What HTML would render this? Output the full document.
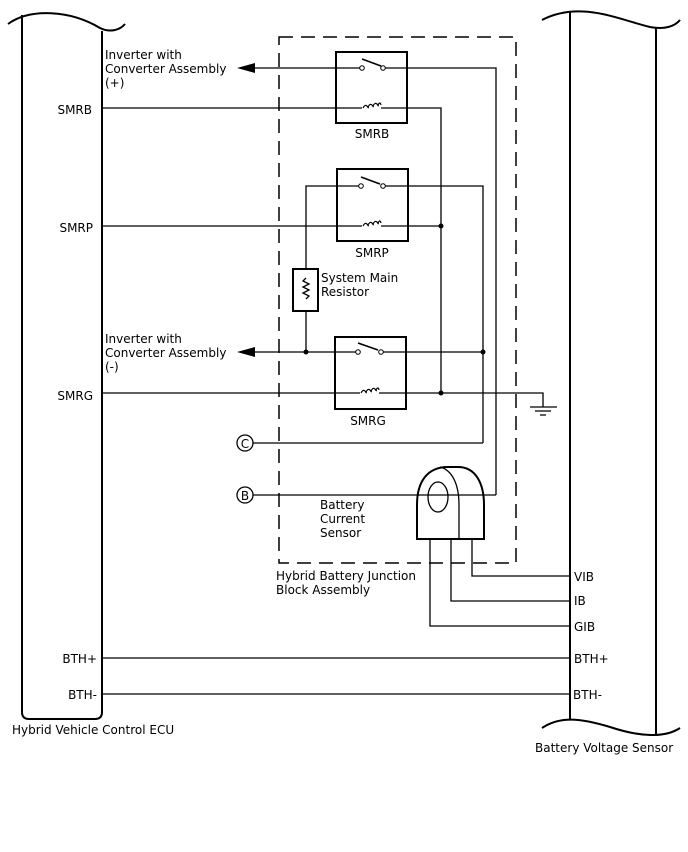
<!DOCTYPE html>
<html><head><meta charset="utf-8"><style>
html,body{margin:0;padding:0;background:#fff}
svg{display:block}
text{font-family:"DejaVu Sans","Liberation Sans",sans-serif;font-size:12px;fill:#000}
</style></head><body>
<svg width="688" height="852" viewBox="0 0 688 852" xmlns="http://www.w3.org/2000/svg">
<defs>
<path id="coil" d="M-9,0 q2,-4 4,-2 q2,3 1,1 q2,-4 4,-2 q2,3 1,1 q2,-4 4,-2 q2,3 1,1 q2,-4 3,0" fill="none" stroke="#000" stroke-width="1.2"/>
</defs>
<g fill="none" stroke="#000" stroke-width="1.3">
<!-- ECU -->
<path d="M8,24 C30,8 70,10 100,28 C110,33 120,30 125,24" stroke-width="2"/>
<path d="M22,15 V712 Q22,719 29,719 H95 Q102,719 102,712 V31" stroke-width="2"/>
<!-- Battery voltage sensor -->
<path d="M542,20 C580,0 620,20 650,27 C665,30 675,26 680,20" stroke-width="2"/>
<path d="M570,11 V720 M656,28 V736" stroke-width="2"/>
<path d="M542,728 C560,716 580,718 610,727 C640,737 665,738 680,728" stroke-width="2"/>
<!-- dashed box -->
<rect x="279" y="37" width="237" height="526" stroke-dasharray="14,8" stroke-width="1.5"/>
<!-- relay boxes -->
<rect x="336" y="52" width="71" height="71" stroke-width="2"/>
<rect x="337" y="169" width="71" height="72" stroke-width="2"/>
<rect x="335" y="337" width="71" height="72" stroke-width="2"/>
<!-- SMRB -->
<path d="M246,68 H360 M385,68 H496 V495"/>
<path d="M362,59 L381,66" stroke-width="1.6"/>
<path d="M102,108 H362 M381,108 H441 V393"/>
<!-- SMRP -->
<path d="M359,186 H306 V269 M306,311 V352"/>
<path d="M385,186 H483 V443"/>
<path d="M361,177 L380,184" stroke-width="1.6"/>
<path d="M102,226 H362 M381,226 H441"/>
<!-- resistor -->
<rect x="293" y="269" width="25" height="42" stroke-width="2"/>
<path d="M306,278 l-3,3 l6,3 l-6,3 l6,3 l-6,3 l6,3 l-3,3"/>
<!-- SMRG -->
<path d="M246,352 H356 M383,352 H483"/>
<path d="M358,343 L378,350" stroke-width="1.6"/>
<path d="M102,393 H360 M379,393 H543 V407"/>
<path d="M530,407 H557 M535,411 H551 M540,415 H546"/>
<!-- C, B -->
<path d="M253,443 H483 M253,495 H496"/>
<circle cx="245" cy="443" r="8"/>
<circle cx="245" cy="495" r="8"/>
<!-- current sensor -->
<path d="M417,539 V505 C417,482 427,467 448,467 H458 C476,467 484,484 484,505 V539 Z" stroke-width="2"/>
<path d="M459,539 V505 C459,484 452,470 440,467"/>
<ellipse cx="438" cy="497" rx="10" ry="15"/>
<path d="M430,539 V626 H570 M451,539 V601 H570 M472,539 V576 H570"/>
<!-- BTH -->
<path d="M102,658 H570 M102,694 H570"/>
</g>
<use href="#coil" x="372" y="108"/>
<use href="#coil" x="372" y="226"/>
<use href="#coil" x="370" y="393"/>
<g fill="#fff" stroke="#000" stroke-width="1">
<circle cx="362" cy="68" r="2.3"/><circle cx="383" cy="68" r="2.3"/>
<circle cx="361" cy="186" r="2.3"/><circle cx="383" cy="186" r="2.3"/>
<circle cx="358" cy="352" r="2.3"/><circle cx="381" cy="352" r="2.3"/>
</g>
<g fill="#000">
<circle cx="441" cy="226" r="2.5"/><circle cx="306" cy="352" r="2.5"/>
<circle cx="483" cy="352" r="2.5"/><circle cx="441" cy="393" r="2.5"/>
<path d="M237,68 L255,63 L255,73 Z"/>
<path d="M237,352 L255,347 L255,357 Z"/>
</g>
<text x="105" y="59">Inverter with</text>
<text x="105" y="73">Converter Assembly</text>
<text x="105" y="87">(+)</text>
<text x="105" y="343">Inverter with</text>
<text x="105" y="357">Converter Assembly</text>
<text x="105" y="371">(-)</text>
<text x="92" y="114" text-anchor="end">SMRB</text>
<text x="93" y="232" text-anchor="end">SMRP</text>
<text x="93" y="400" text-anchor="end">SMRG</text>
<text x="97" y="663" text-anchor="end">BTH+</text>
<text x="97" y="699" text-anchor="end">BTH-</text>
<text x="372" y="138" text-anchor="middle">SMRB</text>
<text x="372" y="257" text-anchor="middle">SMRP</text>
<text x="368" y="425" text-anchor="middle">SMRG</text>
<text x="321" y="282">System Main</text>
<text x="321" y="296">Resistor</text>
<text x="245" y="448" text-anchor="middle" font-size="11">C</text>
<text x="245" y="500" text-anchor="middle" font-size="11">B</text>
<text x="320" y="509">Battery</text>
<text x="320" y="523">Current</text>
<text x="320" y="537">Sensor</text>
<text x="276" y="580">Hybrid Battery Junction</text>
<text x="276" y="594">Block Assembly</text>
<text x="574" y="581">VIB</text>
<text x="574" y="605">IB</text>
<text x="574" y="631">GIB</text>
<text x="574" y="663">BTH+</text>
<text x="573" y="699">BTH-</text>
<text x="12" y="734">Hybrid Vehicle Control ECU</text>
<text x="535" y="752">Battery Voltage Sensor</text>
</svg>
</body></html>
